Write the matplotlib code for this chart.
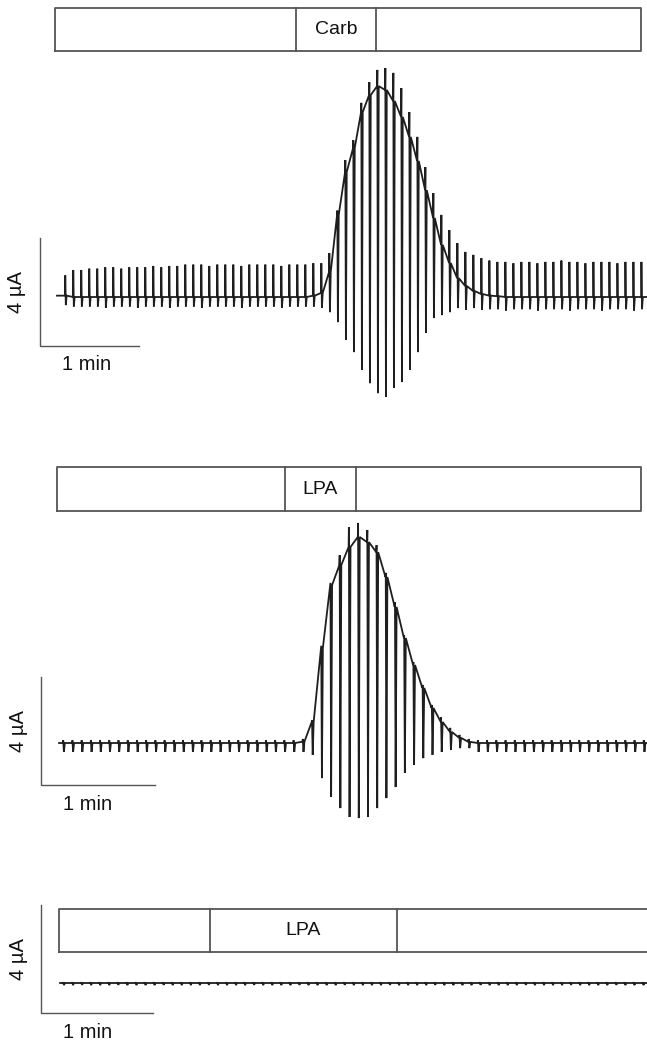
import numpy as np
import matplotlib
matplotlib.use("Agg")
import matplotlib.pyplot as plt

plt.rcParams['font.family'] = ['Liberation Sans', 'DejaVu Sans']

# ---------------- data ----------------
# one value per voltage pulse, current in uA relative to holding baseline
pulse_period = 4.85  # s between test pulses

# panel 1: carbachol
carb_tops = [0.8, 1.0, 1.0, 1.05, 1.05, 1.1, 1.1, 1.05, 1.1, 1.1, 1.1, 1.15, 1.1, 1.15, 1.15, 1.2, 1.2,
             1.2, 1.15, 1.2, 1.2, 1.2, 1.15, 1.2, 1.2, 1.2, 1.2, 1.15, 1.2, 1.2, 1.2, 1.25, 1.25,
             1.63, 3.2, 5.07, 5.81, 7.19, 7.96, 8.41, 8.48, 8.30, 7.74, 6.85, 5.93, 4.81, 3.85, 3.04,
             2.48, 2.0, 1.67, 1.56, 1.44,
             1.35, 1.3, 1.3, 1.25, 1.3, 1.3, 1.25, 1.3, 1.3, 1.35, 1.3, 1.3, 1.25, 1.3, 1.3, 1.3,
             1.25, 1.3, 1.3, 1.3]
carb_bottoms = [-0.3, -0.35, -0.35, -0.35, -0.35, -0.4, -0.35, -0.35, -0.35, -0.4, -0.35, -0.35, -0.35,
                -0.4, -0.35, -0.35, -0.35, -0.4, -0.35, -0.35, -0.35, -0.35, -0.4, -0.35, -0.35, -0.35,
                -0.35, -0.4, -0.35, -0.35, -0.35, -0.35, -0.4,
                -0.56, -0.93, -1.59, -2.04, -2.70, -3.19, -3.56, -3.70, -3.37, -3.15, -2.70, -2.04,
                -1.33, -0.78, -0.67, -0.56, -0.41, -0.48, -0.41, -0.48,
                -0.45, -0.45, -0.5, -0.45, -0.45, -0.45, -0.5, -0.45, -0.45, -0.45, -0.5, -0.45, -0.45,
                -0.45, -0.5, -0.45, -0.45, -0.45, -0.5, -0.45]
carb_holds = [0.05, 0.0, 0.0, 0.0, 0.0, 0.0, 0.0, 0.0, 0.0, 0.0, 0.0, 0.0, 0.0, 0.0, 0.0, 0.0,
              0.0, 0.0, 0.0, 0.0, 0.0, 0.0, 0.0, 0.0, 0.0, 0.0, 0.0, 0.0, 0.0, 0.0, 0.0, 0.05,
              0.15,
              0.93, 3.04, 4.63, 5.52, 6.85, 7.48, 7.81, 7.67, 7.26, 6.67, 5.93, 5.04, 3.96,
              2.93, 1.93, 1.26, 0.70, 0.41, 0.22, 0.11,
              0.05, 0.03, 0.0, 0.0, 0.0, 0.0, 0.0, 0.0, 0.0, 0.0, 0.0, 0.0, 0.0, 0.0, 0.0,
              0.0, 0.0, 0.0, 0.0, 0.0]

# panel 2: LPA, responding oocyte
lpa_tops = [0.1, 0.1, 0.1, 0.1, 0.1, 0.1, 0.1, 0.1, 0.1, 0.1, 0.1, 0.1, 0.1, 0.1,
            0.1, 0.1, 0.1, 0.1, 0.1, 0.1, 0.1, 0.1, 0.1, 0.1, 0.1, 0.1, 0.15,
            0.85, 3.6, 5.93, 6.96, 8.0, 8.15, 7.89, 7.33, 6.30, 5.22, 4.0, 3.0, 2.15,
            1.41, 0.96, 0.56, 0.30, 0.15,
            0.1, 0.1, 0.1, 0.1, 0.1, 0.1, 0.1, 0.1, 0.1, 0.1, 0.1, 0.1, 0.1, 0.1,
            0.1, 0.1, 0.1, 0.1, 0.1]
lpa_bottoms = [-0.33, -0.33, -0.33, -0.33, -0.33, -0.33, -0.33, -0.33, -0.33, -0.33, -0.33, -0.33,
               -0.33, -0.33, -0.33, -0.33, -0.33, -0.33, -0.33, -0.33, -0.33, -0.33, -0.33, -0.33,
               -0.33, -0.33, -0.33,
               -0.44, -1.30, -2.0, -2.41, -2.74, -2.78, -2.74, -2.41, -2.04, -1.63, -1.11, -0.81,
               -0.56, -0.44, -0.33, -0.26, -0.19, -0.19,
               -0.33, -0.33, -0.33, -0.33, -0.33, -0.33, -0.33, -0.33, -0.33, -0.33, -0.33, -0.33,
               -0.33, -0.33, -0.33, -0.33, -0.33, -0.33, -0.33]
lpa_holds = [0.0, 0.0, 0.0, 0.0, 0.0, 0.0, 0.0, 0.0, 0.0, 0.0, 0.0, 0.0, 0.0, 0.0, 0.0, 0.0, 0.0,
             0.0, 0.0, 0.0, 0.0, 0.0, 0.0, 0.0, 0.0, 0.0, 0.05,
             0.78, 3.52, 5.85, 6.59, 7.26, 7.63, 7.44, 7.07, 6.15, 5.04, 3.89, 2.89, 2.04, 1.30,
             0.78, 0.41, 0.19, 0.04,
             0.0, 0.0, 0.0, 0.0, 0.0, 0.0, 0.0, 0.0, 0.0, 0.0, 0.0, 0.0, 0.0, 0.0, 0.0, 0.0,
             0.0, 0.0, 0.0]

# panel 3: LPA, non-responding oocyte
lpa2_tops = [0.03, 0.03, 0.03, 0.03, 0.03, 0.03, 0.03, 0.03, 0.03, 0.03, 0.03, 0.03, 0.03,
             0.03, 0.03, 0.03, 0.03, 0.03, 0.03, 0.03, 0.03, 0.03, 0.03, 0.03, 0.03, 0.03,
             0.03, 0.03, 0.03, 0.03, 0.03, 0.03, 0.03, 0.03, 0.03, 0.03, 0.03, 0.03, 0.03,
             0.03, 0.03, 0.03, 0.03, 0.03, 0.03, 0.03, 0.03, 0.03, 0.03, 0.03, 0.03, 0.03,
             0.03, 0.03, 0.03, 0.03, 0.03, 0.03, 0.03, 0.03, 0.03, 0.03, 0.03, 0.03, 0.03]
lpa2_bottoms = [-0.08, -0.08, -0.07, -0.08, -0.08, -0.08, -0.07, -0.08, -0.08, -0.08, -0.08, -0.07,
                -0.08, -0.08, -0.08, -0.08, -0.07, -0.08, -0.08, -0.08, -0.08, -0.07, -0.08, -0.08,
                -0.08, -0.08, -0.07, -0.08, -0.08, -0.08, -0.08, -0.07, -0.08, -0.08, -0.08, -0.08,
                -0.07, -0.08, -0.08, -0.08, -0.08, -0.07, -0.08, -0.08, -0.08, -0.08, -0.07, -0.08,
                -0.08, -0.08, -0.08, -0.07, -0.08, -0.08, -0.08, -0.08, -0.07, -0.08, -0.08, -0.08,
                -0.08, -0.07, -0.08, -0.08, -0.08]
lpa2_holds = [0.0, 0.0, 0.0, 0.0, 0.0, 0.0, 0.0, 0.0, 0.0, 0.0, 0.0, 0.0, 0.0, 0.0, 0.0, 0.0, 0.0,
              0.0, 0.0, 0.0, 0.0, 0.0, 0.0, 0.0, 0.0, 0.0, 0.0, 0.0, 0.0, 0.0, 0.0, 0.0, 0.0, 0.0,
              0.0, 0.0, 0.0, 0.0, 0.0, 0.0, 0.0, 0.0, 0.0, 0.0, 0.0, 0.0, 0.0, 0.0, 0.0, 0.0, 0.0,
              0.0, 0.0, 0.0, 0.0, 0.0, 0.0, 0.0, 0.0, 0.0, 0.0, 0.0, 0.0, 0.0, 0.0]

drug_labels = ["Carb", "LPA", "LPA"]
drug_on = [155.2, 128.4, 90.5]      # s
drug_off = [203.6, 165.8, 190.7]    # s
record_start = [9.1, 8.4, 9.6]      # s, left end of the bar
record_end = [364.2, 315.8, 325.5]  # s, right end of the bar
first_pulse = [15.15, 11.55, 11.8]  # s
trace_start = [10.3, 9.5, 10.2]     # s
scale_time = 60    # s   (1 min)
scale_current = 4  # uA

# ---------------- layout (pixels in a 647 x 1045 figure) ----------------
W, H = 647, 1045
panels = [
    dict(tops=carb_tops, bottoms=carb_bottoms, holds=carb_holds,
         band=(0, 425), x0=40, y0=297, px_s=1.65, box_rows=(8, 51), bar_base=346),
    dict(tops=lpa_tops, bottoms=lpa_bottoms, holds=lpa_holds,
         band=(425, 860), x0=41, y0=743, px_s=1.9, box_rows=(467, 511), bar_base=785),
    dict(tops=lpa2_tops, bottoms=lpa2_bottoms, holds=lpa2_holds,
         band=(860, 1045), x0=41, y0=983, px_s=1.867, box_rows=(909, 952), bar_base=1013),
]
px_uA = 27.0

fig = plt.figure(figsize=(W / 100, H / 100), dpi=100)
fig.patch.set_facecolor("white")

trace_col = "#1e1e1e"
box_col = "#555555"

for i, p in enumerate(panels):
    top_px, bot_px = p["band"]
    ax = fig.add_axes([0, 1 - bot_px / H, 1, (bot_px - top_px) / H])
    ax.set_xlim(-p["x0"] / p["px_s"], (W - p["x0"]) / p["px_s"])
    ax.set_ylim((p["y0"] - bot_px) / px_uA, (p["y0"] - top_px) / px_uA)
    ax.axis("off")

    # build the current trace from the per-pulse values
    tops, bots, holds = p["tops"], p["bottoms"], p["holds"]
    tt = [trace_start[i]]
    yy = [holds[0]]
    for k in range(len(tops)):
        tk = first_pulse[i] + k * pulse_period
        tt += [tk, tk + 0.15, tk + 0.5, tk + 1.0]
        yy += [holds[k], tops[k], bots[k], holds[k]]
    tt.append(ax.get_xlim()[1])
    yy.append(holds[-1])
    ax.plot(tt, yy, color=trace_col, lw=1.3, solid_joinstyle="miter")

    # drug application bar
    y_hi = (p["y0"] - p["box_rows"][0]) / px_uA
    y_lo = (p["y0"] - p["box_rows"][1]) / px_uA
    t0, t1 = record_start[i], record_end[i]
    ax.plot([t0, t1, t1, t0, t0], [y_lo, y_lo, y_hi, y_hi, y_lo], color=box_col, lw=1.3,
            clip_on=False)
    for td in (drug_on[i], drug_off[i]):
        ax.plot([td, td], [y_lo, y_hi], color=box_col, lw=1.3)
    ax.text((drug_on[i] + drug_off[i]) / 2, (y_lo + y_hi) / 2, drug_labels[i],
            ha="center", va="center", fontsize=14, color="#111111")

    # scale bars
    base = (p["y0"] - p["bar_base"]) / px_uA
    ax.plot([0, 0, scale_time], [base + scale_current, base, base], color=box_col, lw=1.0,
            solid_joinstyle="miter")
    ax.annotate("4 µA", xy=(0, base + scale_current / 2), xytext=(-23, 0),
                textcoords="offset pixels", rotation=90, ha="center", va="center",
                fontsize=14.5, color="#111111")
    ax.annotate("1 min", xy=(0, base), xytext=(22, -19), textcoords="offset pixels",
                ha="left", va="center", fontsize=14.5, color="#111111")

fig.savefig("out.png", dpi=100, facecolor="white")
